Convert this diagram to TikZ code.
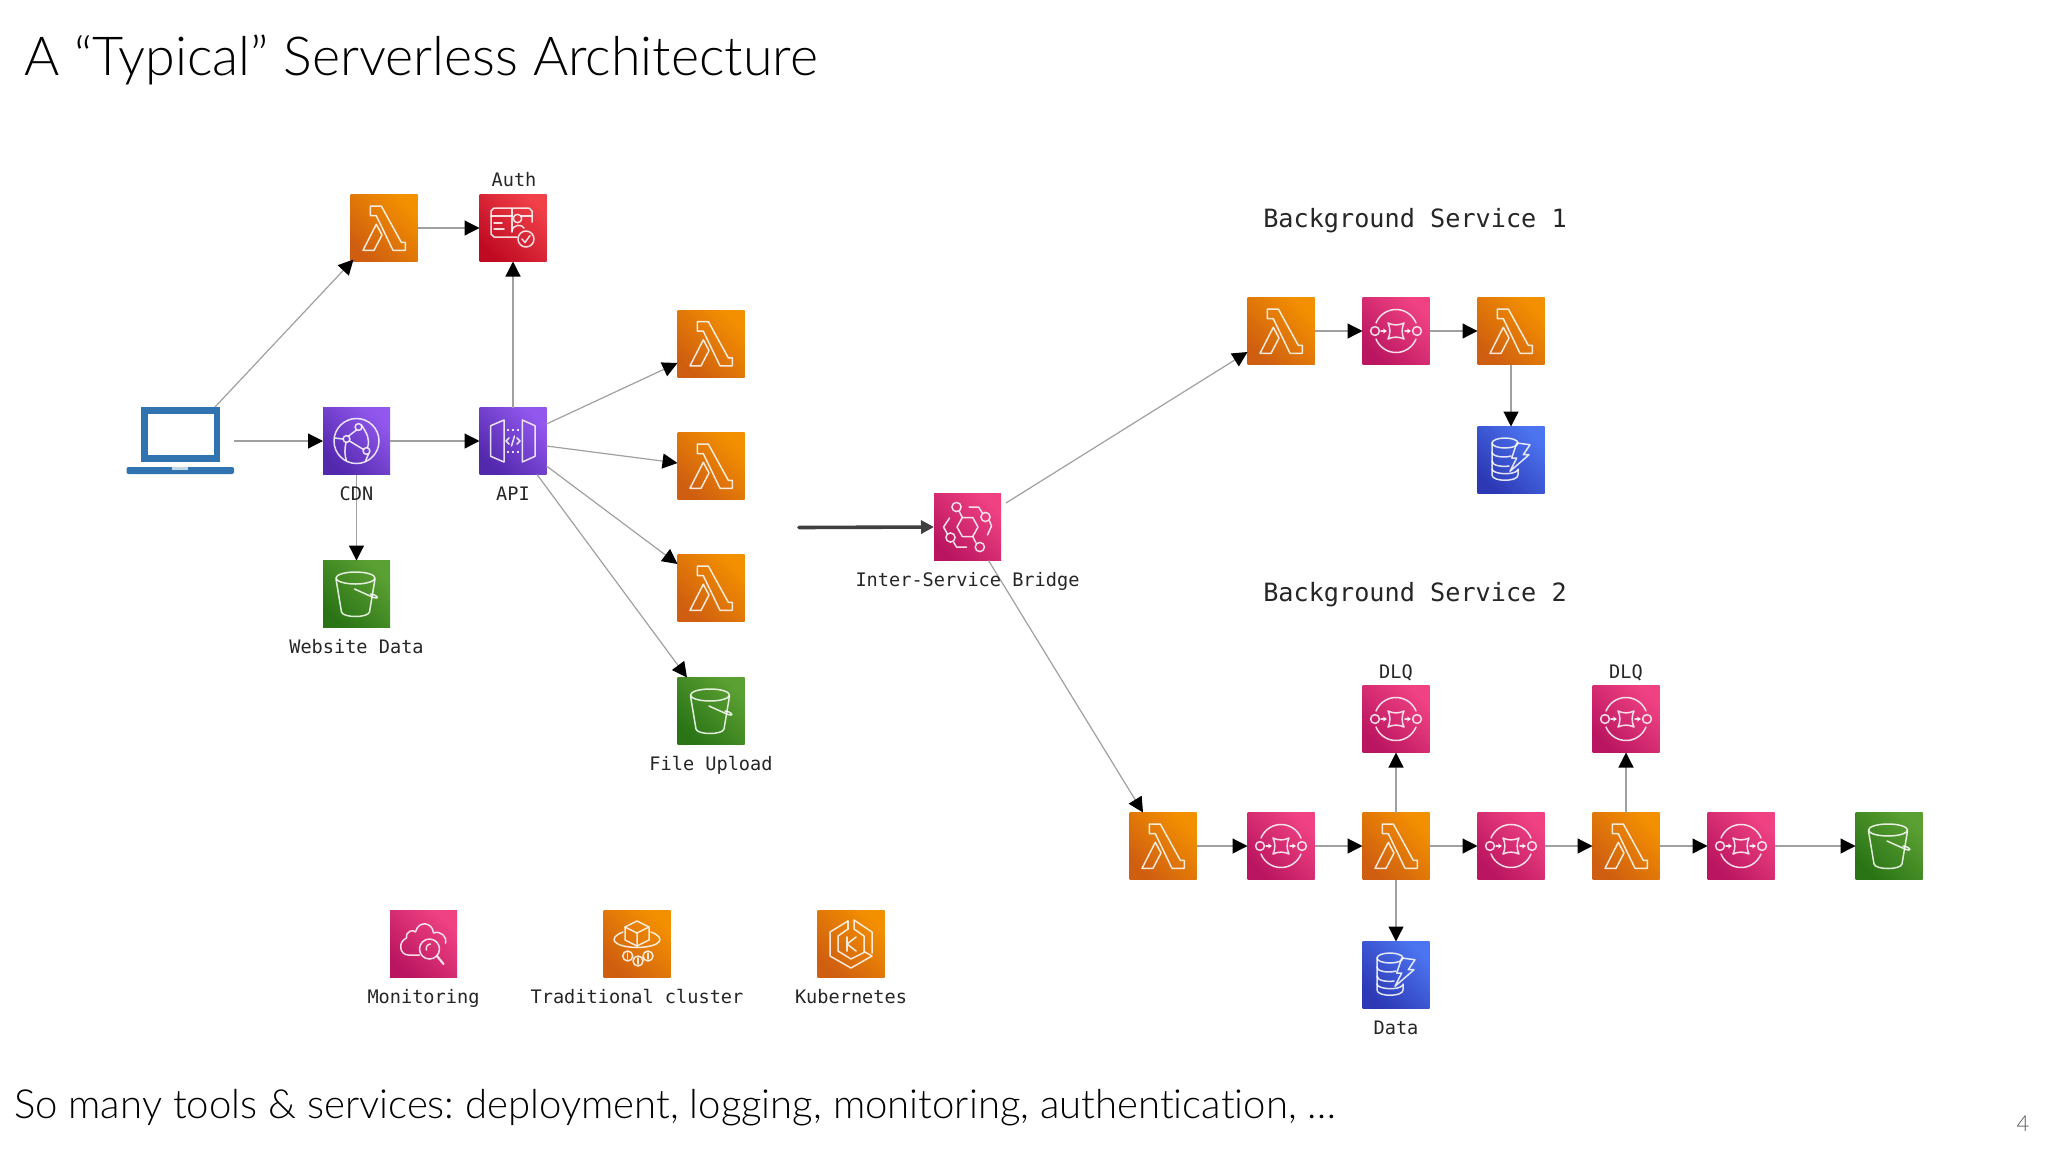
\documentclass[tikz,border=0pt]{standalone}
\usepackage{fontspec}
\usetikzlibrary{arrows.meta,calc}
\setmainfont{Lato Light}[Ligatures=NoCommon]
\newfontfamily\monof{DejaVu Sans Mono}
\frenchspacing
\definecolor{wire}{HTML}{A0A0A0}
\definecolor{LapBlue}{HTML}{2F74B0}
\definecolor{OrDk}{HTML}{CF5E10}\definecolor{OrLt}{HTML}{F39000}
\definecolor{PkDk}{HTML}{BA1560}\definecolor{PkLt}{HTML}{F04283}
\definecolor{PuDk}{HTML}{5228AC}\definecolor{PuLt}{HTML}{9258EE}
\definecolor{RdDk}{HTML}{C00A22}\definecolor{RdLt}{HTML}{F04048}
\definecolor{BlDk}{HTML}{2C38B4}\definecolor{BlLt}{HTML}{4C74F0}
\definecolor{GrDk}{HTML}{2A7416}\definecolor{GrLt}{HTML}{5BA032}
\tikzset{
 iconbase/.style={minimum size=67pt,inner sep=0pt,outer sep=0pt,shape=rectangle},
 orangeicon/.style={iconbase,bottom color=OrDk,top color=OrLt,shading angle=-45},
 pinkicon/.style={iconbase,bottom color=PkDk,top color=PkLt,shading angle=-45},
 purpleicon/.style={iconbase,bottom color=PuDk,top color=PuLt,shading angle=-45},
 redicon/.style={iconbase,bottom color=RdDk,top color=RdLt,shading angle=-45},
 blueicon/.style={iconbase,bottom color=BlDk,top color=BlLt,shading angle=-45},
 greenicon/.style={iconbase,bottom color=GrDk,top color=GrLt,shading angle=-45},
 glyph/.style={draw=white,draw opacity=.85,line width=1.5pt,line join=round,line cap=round,fill=none},
 lbl/.style={font=\monof\fontsize{18.6}{22}\selectfont,text=black!85,inner sep=0pt,anchor=base},
 hdr/.style={font=\monof\fontsize{25.2}{30}\selectfont,text=black!85,inner sep=0pt,anchor=base},
 wired/.style={draw=wire,line width=1.2pt,-{Triangle[length=15pt,width=15pt,black]}},
 thickwire/.style={draw=black!75,line width=3.6pt,line cap=round,-{Triangle[length=13pt,width=13pt]}},
 lambdaglyph/.pic={
  \path[glyph] (-13.7,-22)--(-2.7,-22)--(17.3,14.3)--(21.3,14.3)--(21.3,22.3)--(9,22.3)--(-7.7,-12.3)--(-13.7,-12.3)--cycle;
  \path[glyph] (-21,22.3)--(-7.7,-3.7)--(-2,7)--(-10,22.3)--cycle;},
 sqsglyph/.pic={
  \path[glyph] plot[domain=22:158,samples=24] ({21.5*cos(\x)},{-21.5*sin(\x)});
  \path[glyph] plot[domain=22:158,samples=24] ({21.5*cos(\x)},{21.5*sin(\x)});
  \path[glyph] (-21,0) circle[radius=4.4] (21,0) circle[radius=4.4];
  \path[glyph] (-8,-8) .. controls (-3,-5.5) and (3,-5.5) .. (8,-8) .. controls (5.5,-3) and (5.5,3) .. (8,8) .. controls (3,5.5) and (-3,5.5) .. (-8,8) .. controls (-5.5,3) and (-5.5,-3) .. (-8,-8) -- cycle;
  \path[glyph,-{Stealth[length=4pt,width=5pt]}] (-15,0)--(-9,0);
  \path[glyph,-{Stealth[length=4pt,width=5pt]}] (9,0)--(15,0);},
 bucketglyph/.pic={
  \path[glyph] (-1,-16) ellipse[x radius=19.5,y radius=6];
  \path[glyph] (-20.5,-15) -- (-15,18) .. controls (-13.5,24) and (11.5,24) .. (13,18) -- (18.5,-15);
  \path[glyph] (-2,-5)--(17,3.5) .. controls (22,5) and (22,3) .. (18,1) -- (14,0);},
 ddbglyph/.pic={
  \path[glyph] (-6,-17) ellipse[x radius=13,y radius=5];
  \path[glyph] (-19,-17)--(-19,15) .. controls (-19,22) and (7,22) .. (7,15)--(7,9);
  \path[glyph] (-19,-8) .. controls (-19,-3) and (-6,-2) .. (0,-4);
  \path[glyph] (-19,1) .. controls (-19,6) and (-8,7) .. (-2,6);
  \path[glyph] (-19,9) .. controls (-19,14) and (2,16) .. (7,10);
  \path[glyph] (5.7,-17)--(19,-15.3)--(12.3,-5.3)--(18,-5.3)--(-1,11.3)--(5.7,-2)--(0.7,-2)--cycle;},
 bridgeglyph/.pic={
  \path[glyph] (-10.5,0)--(-5.2,-9.5)--(5.2,-9.5)--(10.5,0)--(5.2,9.5)--(-5.2,9.5)--cycle;
  \path[glyph] (-11,-20) circle[radius=4.6] (18,-10) circle[radius=4.6] (-17,10.5) circle[radius=4.6] (12.3,20) circle[radius=4.6];
  \path[glyph] (-8.5,-16)--(-5.2,-9.5) (8.5,16)--(5.2,9.5);
  \path[glyph] (1.5,-20)--(11,-20)--(15,-14);
  \path[glyph] (22,-6)--(24,-1)--(20,8);
  \path[glyph] (-18,-9)--(-24,0)--(-20,7);
  \path[glyph] (-14,15)--(-11,20)--(-1,20);},
 apiglyph/.pic={
  \path[glyph] (-22.3,-15.3)--(-9,-21)--(-9,21)--(-22.3,15.3)--cycle;
  \path[glyph] (22,-15.3)--(9.3,-21)--(9.3,21)--(22,15.3)--cycle;
  \path[glyph,dash pattern=on 2pt off 3pt,line cap=butt] (-6,-11)--(6,-11) (-6,11)--(6,11);
  \path[glyph] (-4,-3)--(-7,0)--(-4,3) (4,-3)--(7,0)--(4,3) (1.5,-5)--(-1.5,5);},
 cdnglyph/.pic={
  \path[glyph] (0,0) circle[radius=22.5];
  \path[glyph] (2,-14) circle[radius=3.4] (-10,-2) circle[radius=3.4] (10,10) circle[radius=3.4];
  \path[glyph] (-22,-3)--(-13.5,-2);
  \path[glyph] (-8,-5)--(0,-11);
  \path[glyph] (-7,0)--(7,8.5);
  \path[glyph] (5,-16) .. controls (10,-8) and (14,-2) .. (11,6.5);
  \path[glyph] (12,13)--(9,20);
  \path[glyph] (-10.5,1.5) .. controls (-12,8) and (-12,14) .. (-10,20);},
 authglyph/.pic={
  \path[glyph] (19,-6)--(19,-17)--(16,-20)--(-19,-20)--(-22,-17)--(-22,6)--(-19,9)--(4,9);
  \path[glyph] (-22,-12)--(-1,-12) (8,-12)--(19,-12);
  \path[glyph] (-1,4)--(-1,-19) (-19,-5)--(-11,-5) (-19,1)--(-9,1);
  \path[glyph] (4.5,-9.5) circle[radius=4.2];
  \path[glyph] (-1,3) .. controls (0,-4) and (9,-4) .. (11,0);
  \path[glyph] (13,11) circle[radius=8];
  \path[glyph] (9,11)--(12,14.5)--(17,7.5);},
 watchglyph/.pic={
  \path[glyph] (-4,11)--(-15,11) .. controls (-24,11) and (-26,-2) .. (-17,-6) .. controls (-18,-13) and (-10,-15) .. (-8,-12) .. controls (-5,-24) and (9,-22) .. (10,-11) .. controls (18,-14) and (24,-6) .. (22,-1);
  \path[glyph] (6,5) circle[radius=10];
  \path[glyph] (3,6) .. controls (2,3) and (4,0) .. (7,0);
  \path[glyph,line width=2.2pt] (13.5,12)--(20,20);},
 clusterglyph/.pic={
  \path[glyph] (0,-23)--(12,-17)--(12,-4)--(0,2)--(-12,-4)--(-12,-17)--cycle;
  \path[glyph] (-12,-17)--(0,-11)--(12,-17) (0,-11)--(0,2);
  \path[glyph] (-14,-12) .. controls (-30,-6) and (-24,3) .. (0,3.5) .. controls (24,3) and (30,-6) .. (14,-12);
  \path[glyph] (-9.3,12) circle[radius=5] (1,17) circle[radius=5] (11,12) circle[radius=5];
  \path[glyph] (-9.3,9)--(-9.3,15) (1,14)--(1,20) (11,9)--(11,15);},
 kubeglyph/.pic={
  \path[glyph] (-3,-23)--(-21,-12)--(-21,12)--(0,24)--(21,12)--(14,8);
  \path[glyph] (-3,-15)--(-13,-8)--(-13,7)--(0,15)--(14,8);
  \path[glyph] (-3,-23)--(-3,-15);
  \path[glyph] (3,-24)--(21,-12)--(21,9) (3,-24)--(3,-15)--(13,-8)--(13,8);
  \path[glyph,line width=1.6pt] (-4,-7)--(-4,7) (5,-7)--(-4,0)--(5,7);},
}
\begin{document}
\begin{tikzpicture}[x=1pt,y=-1pt]
\useasboundingbox[fill=white] (0,0) rectangle (2048,1152);
% texts
\node[anchor=base west,inner sep=0pt,font=\fontsize{53.8}{60}\selectfont] (title) at (24,75) {A “Typical” Serverless Architecture};
\node[anchor=base west,inner sep=0pt,font=\fontsize{40.1}{46}\selectfont] (foot) at (14,1118) {So many tools \& services: deployment, logging, monitoring, authentication, \dots};
\node[anchor=center,inner sep=0pt,text=black!65,font=\fontsize{22}{26}\selectfont] (page) at (2023,1124) {4};
% icons
\node[orangeicon] (lamTop) at (384,228) {};
\node[redicon] (auth) at (513,228) {};
\node[purpleicon] (cdn) at (356.5,441) {};
\node[purpleicon] (api) at (513,441) {};
\node[greenicon] (web) at (356.5,594) {};
\node[orangeicon] (lamA) at (711,343.5) {};
\node[orangeicon] (lamB) at (711,466) {};
\node[orangeicon] (lamC) at (711,588) {};
\node[greenicon] (upl) at (711,711) {};
\node[pinkicon] (bridge) at (967.5,527) {};
\node[orangeicon] (oa) at (1281,331) {};
\node[pinkicon] (ob) at (1396,331) {};
\node[orangeicon] (oc) at (1511,331) {};
\node[blueicon] (od) at (1511,460) {};
\node[orangeicon] (ta) at (1163,846) {};
\node[pinkicon] (tb) at (1281,846) {};
\node[orangeicon] (tc) at (1396,846) {};
\node[pinkicon] (td) at (1511,846) {};
\node[orangeicon] (te) at (1626,846) {};
\node[pinkicon] (tf) at (1741,846) {};
\node[greenicon] (tg) at (1889,846) {};
\node[pinkicon] (dlqa) at (1396,719) {};
\node[pinkicon] (dlqb) at (1626,719) {};
\node[blueicon] (tdata) at (1396,975) {};
\node[pinkicon] (mon) at (423.5,944) {};
\node[orangeicon] (cluster) at (637,944) {};
\node[orangeicon] (kube) at (851,944) {};
% laptop
\node[iconbase,minimum width=107pt] (laptop) at (180.5,441) {};
\fill[LapBlue] (141,407) rectangle (220,462);
\fill[white] (147.5,414) rectangle (213.5,455);
\fill[rounded corners=2pt,LapBlue] (126.5,467) rectangle (234,474);
\fill[LapBlue!30!white] (172,467) rectangle (188,469.5);
% glyphs
\foreach \n in {lamTop,lamA,lamB,lamC,oa,oc,ta,tc,te} \pic at (\n) {lambdaglyph};
\foreach \n in {ob,tb,td,tf,dlqa,dlqb} \pic at (\n) {sqsglyph};
\foreach \n in {web,upl,tg} \pic at (\n) {bucketglyph};
\foreach \n in {od,tdata} \pic at (\n) {ddbglyph};
\pic at (bridge) {bridgeglyph};
\pic at (api) {apiglyph};
\pic at (cdn) {cdnglyph};
\pic at (auth) {authglyph};
\pic at (mon) {watchglyph};
\pic at (cluster) {clusterglyph};
\pic at (kube) {kubeglyph};
% connectors
\coordinate (lapTop) at (215,407);
\coordinate (feed) at (799,527.5);
\draw[wired] (lapTop) -- ([xshift=3pt,yshift=2pt]lamTop.south west);
\draw[wired] (laptop.east) -- (cdn.west);
\draw[wired] (cdn.east) -- (api.west);
\draw[wired] (lamTop.east) -- (auth.west);
\draw[wired] (api.north) -- (auth.south);
\draw[wired] (cdn.south) -- (web.north);
\draw[wired] ([yshift=17pt]api.east) -- ([yshift=-19.5pt]lamA.west);
\draw[wired] ([yshift=-5pt]api.east) -- ([yshift=3pt]lamB.west);
\draw[wired] ([yshift=-25pt]api.east) -- ([yshift=24pt]lamC.west);
\draw[wired] ([xshift=24pt]api.south) -- ([xshift=-24pt]upl.north);
\draw[thickwire] (feed) -- (bridge.west);
\draw[wired] ([xshift=5pt,yshift=24pt]bridge.east) -- ([yshift=-21pt]oa.west);
\draw[wired] ([xshift=21pt]bridge.south) -- ([xshift=-20pt]ta.north);
\draw[wired] (oa.east) -- (ob.west);
\draw[wired] (ob.east) -- (oc.west);
\draw[wired] (oc.south) -- (od.north);
\draw[wired] (ta.east) -- (tb.west);
\draw[wired] (tb.east) -- (tc.west);
\draw[wired] (tc.east) -- (td.west);
\draw[wired] (td.east) -- (te.west);
\draw[wired] (te.east) -- (tf.west);
\draw[wired] (tf.east) -- (tg.west);
\draw[wired] (tc.north) -- (dlqa.south);
\draw[wired] (te.north) -- (dlqb.south);
\draw[wired] (tc.south) -- (tdata.north);
% labels
\node[lbl] (lAuth) at (514,186) {Auth};
\node[lbl] (lCdn) at (356.5,500.5) {CDN};
\node[lbl] (lApi) at (513,500.5) {API};
\node[lbl] (lWeb) at (356.5,653) {Website Data};
\node[lbl] (lUpl) at (711,770) {File Upload};
\node[lbl] (lBr) at (967.5,586.5) {Inter-Service Bridge};
\node[hdr] (hOne) at (1415,227) {Background Service 1};
\node[hdr] (hTwo) at (1415,601) {Background Service 2};
\node[lbl] (lDa) at (1396,678) {DLQ};
\node[lbl] (lDb) at (1626,678) {DLQ};
\node[lbl] (lData) at (1396,1034) {Data};
\node[lbl] (lMon) at (423.5,1003.5) {Monitoring};
\node[lbl] (lCl) at (637,1003.5) {Traditional cluster};
\node[lbl] (lKu) at (851,1003.5) {Kubernetes};
\end{tikzpicture}
\end{document}
